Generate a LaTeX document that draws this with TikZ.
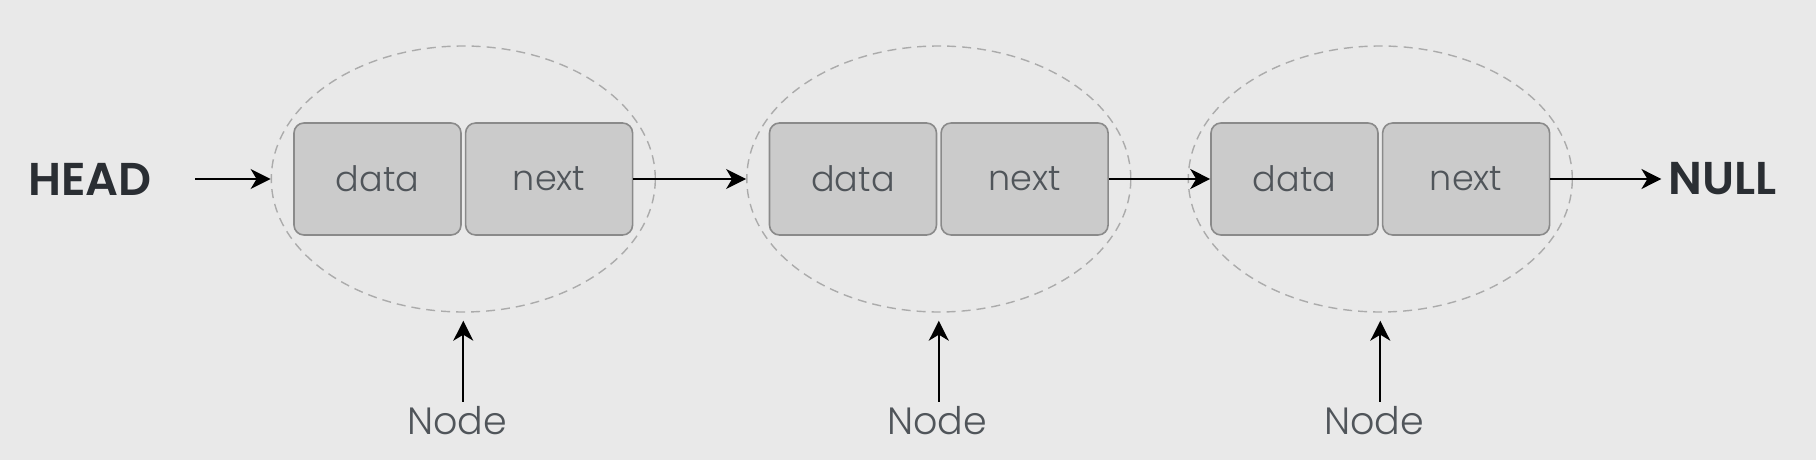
\documentclass[tikz,border=0pt]{standalone}
\usepackage{fontspec}
\setmainfont{Poppins}
\newfontfamily\lightfont{Poppins Light}
\newfontfamily\semifont{Poppins SemiBold}
\usepackage{tikz}
\usetikzlibrary{calc}
\usetikzlibrary{positioning}
\usetikzlibrary{shapes.geometric, arrows.meta}
\definecolor{bggray}{HTML}{E9E9E9}
\definecolor{boxfill}{HTML}{CBCBCB}
\definecolor{boxline}{HTML}{8A8A8A}
\definecolor{ringline}{HTML}{ABABAB}
\definecolor{fieldtext}{HTML}{50555A}
\definecolor{darktext}{HTML}{2A2E33}
\tikzstyle{field} = [rectangle, rounded corners=10pt,
minimum width=167pt,
minimum height=112pt,
text centered,
draw=boxline,
line width=1.6pt,
fill=boxfill,
text=fieldtext,
font=\lightfont\fontsize{35}{40}\selectfont]
\tikzstyle{wrap} = [ellipse,
minimum width=384pt,
minimum height=266pt,
inner sep=0pt,
draw=ringline,
line width=1.4pt,
dash pattern=on 9pt off 6pt]
\tikzstyle{endlabel} = [font=\semifont\fontsize{46}{56}\selectfont, text=darktext]
\tikzstyle{caption} = [font=\lightfont\fontsize{38}{44}\selectfont, text=fieldtext, inner sep=5pt]
\tikzstyle{arrow} = [line width=1.8pt,-{Stealth[length=20pt,width=20pt,inset=6pt]}]

\begin{document}
\begin{tikzpicture} [x=1pt, y=-1pt]
    \fill [bggray] (0,0) rectangle (1816,460);
    \useasboundingbox (0,0) rectangle (1816,460);

    \node (data1) [field] at (377.5,179) {data};
    \node (next1) [field, right=3pt of data1] {next};
    \node (data2) [field] at (853,179) {data};
    \node (next2) [field, right=3pt of data2] {next};
    \node (data3) [field] at (1294.5,179) {data};
    \node (next3) [field, right=3pt of data3] {next};

    \node (ring1) [wrap] at ($(data1.east)!0.5!(next1.west)$) {};
    \node (ring2) [wrap] at ($(data2.east)!0.5!(next2.west)$) {};
    \node (ring3) [wrap] at ($(data3.east)!0.5!(next3.west)$) {};

    \node (head) [endlabel] at (90,179) {HEAD};
    \node (null) [endlabel] at (1723,179) {NULL};

    \node (cap1) [caption] at (457,421) {Node};
    \node (cap2) [caption] at (937,421) {Node};
    \node (cap3) [caption] at (1374,421) {Node};

    \draw [arrow, shorten <=40pt] (head) -- (ring1);
    \draw [arrow] (next1) -- (ring2);
    \draw [arrow] (next2) -- (data3);
    \draw [arrow, shorten >=4pt] (next3) -- (null);

    \draw [arrow, shorten >=8pt] (cap1.north -| ring1.south) -- (ring1.south);
    \draw [arrow, shorten >=8pt] (cap2.north -| ring2.south) -- (ring2.south);
    \draw [arrow, shorten >=8pt] (cap3.north -| ring3.south) -- (ring3.south);

\end{tikzpicture}
\end{document}
